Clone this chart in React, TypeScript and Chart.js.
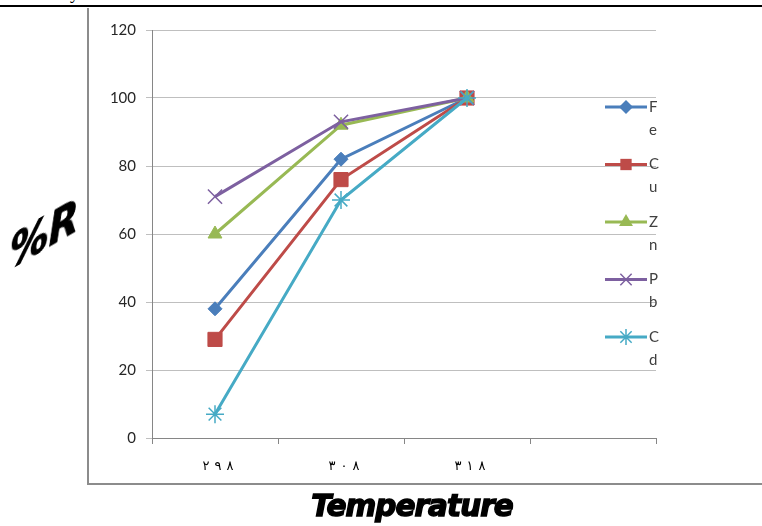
import React, { useEffect, useRef } from 'react';
import { Chart, registerables } from 'chart.js';

Chart.register(...registerables);

const categories = ['٢٩٨', '٣٠٨', '٣١٨', ''];
const seriesNames = ['Fe', 'Cu', 'Zn', 'Pb', 'Cd'];
const feValues = [38, 82, 100];
const cuValues = [29, 76, 100];
const znValues = [60, 92, 100];
const pbValues = [71, 93, 100];
const cdValues = [7, 70, 100];
const yMin = 0;
const yMax = 120;
const yStep = 20;

const colors = ['#4A7EBB', '#BE4B48', '#98B954', '#7D60A0', '#46AAC5'];
const pointStyles = ['rectRot', 'rect', 'triangle', 'crossRot', 'star'];
const pointRadii = [7, 10, 8, 10, 9];
const seriesValues = [feValues, cuValues, znValues, pbValues, cdValues];

function drawMarker(ctx: CanvasRenderingContext2D, style: string, x: number, y: number, r: number, color: string) {
  ctx.save();
  ctx.fillStyle = color;
  ctx.strokeStyle = color;
  ctx.lineWidth = 1.5;
  ctx.beginPath();
  if (style === 'rectRot') {
    ctx.moveTo(x, y - r);
    ctx.lineTo(x + r, y);
    ctx.lineTo(x, y + r);
    ctx.lineTo(x - r, y);
    ctx.closePath();
    ctx.fill();
  } else if (style === 'rect') {
    const s = r * Math.SQRT1_2;
    ctx.rect(x - s, y - s, 2 * s, 2 * s);
    ctx.fill();
  } else if (style === 'triangle') {
    ctx.moveTo(x, y - r);
    ctx.lineTo(x + r * Math.sin((2 * Math.PI) / 3), y + r / 2);
    ctx.lineTo(x - r * Math.sin((2 * Math.PI) / 3), y + r / 2);
    ctx.closePath();
    ctx.fill();
  } else if (style === 'crossRot') {
    const s = r * Math.SQRT1_2;
    ctx.moveTo(x - s, y - s);
    ctx.lineTo(x + s, y + s);
    ctx.moveTo(x - s, y + s);
    ctx.lineTo(x + s, y - s);
    ctx.stroke();
  } else {
    const s = r * Math.SQRT1_2;
    ctx.moveTo(x - s, y - s);
    ctx.lineTo(x + s, y + s);
    ctx.moveTo(x - s, y + s);
    ctx.lineTo(x + s, y - s);
    ctx.moveTo(x, y - r);
    ctx.lineTo(x, y + r);
    ctx.moveTo(x - r, y);
    ctx.lineTo(x + r, y);
    ctx.stroke();
  }
  ctx.restore();
}

const legendPlugin = {
  id: 'wrappedLegend',
  afterDraw(chart: any) {
    const ctx = chart.ctx as CanvasRenderingContext2D;
    const area = chart.chartArea;
    const x0 = area.right - 51;
    const x1 = area.right - 9;
    const xm = (x0 + x1) / 2;
    chart.data.datasets.forEach((ds: any, i: number) => {
      const y = area.top + 77 + i * 57.5;
      ctx.save();
      ctx.strokeStyle = ds.borderColor;
      ctx.lineWidth = 3;
      ctx.beginPath();
      ctx.moveTo(x0, y);
      ctx.lineTo(x1, y);
      ctx.stroke();
      drawMarker(ctx, ds.pointStyle, xm, y, Math.min(ds.pointRadius, 8), ds.borderColor);
      ctx.fillStyle = '#404040';
      ctx.font = '15px Lato';
      ctx.textAlign = 'left';
      ctx.textBaseline = 'middle';
      Array.from(ds.label as string).forEach((ch, j) => {
        ctx.fillText(ch, x1 + 2, y + j * 23);
      });
      ctx.restore();
    });
  },
};

// Draws the category labels of the x scale with wider letter spacing
const xLabelPlugin = {
  id: 'spacedXLabels',
  afterDraw(chart: any) {
    const ctx = chart.ctx as CanvasRenderingContext2D;
    const xs = chart.scales.x;
    const gap = 5;
    ctx.save();
    ctx.fillStyle = '#000';
    ctx.font = '13px "DejaVu Sans"';
    ctx.textAlign = 'left';
    ctx.textBaseline = 'middle';
    (chart.data.labels as string[]).forEach((lab, i) => {
      if (!lab) return;
      const chars = Array.from(lab);
      const widths = chars.map((c) => ctx.measureText(c).width);
      const total = widths.reduce((a, b) => a + b, 0) + gap * (chars.length - 1);
      let x = xs.getPixelForValue(i) + 3 - total / 2;
      chars.forEach((c, k) => {
        ctx.fillText(c, x, xs.top + 29);
        x += widths[k] + gap;
      });
    });
    ctx.restore();
  },
};

export default function App() {
  const ref = useRef<HTMLCanvasElement>(null);

  useEffect(() => {
    const datasets = seriesNames.map((name, i) => ({
      label: name,
      data: seriesValues[i],
      borderColor: colors[i],
      backgroundColor: colors[i],
      borderWidth: 3,
      pointStyle: pointStyles[i],
      pointRadius: pointRadii[i],
      pointBorderWidth: i >= 3 ? 1.5 : 1,
      pointBackgroundColor: colors[i],
      pointBorderColor: colors[i],
      tension: 0,
      order: 5 - i,
    }));
    const tickFont = { family: 'Lato', size: 15 };
    const chart = new Chart(ref.current as HTMLCanvasElement, {
      type: 'line',
      data: { labels: categories, datasets: datasets as any },
      options: {
        animation: false,
        responsive: false,
        maintainAspectRatio: false,
        layout: { padding: { left: 102, right: 106, top: 30, bottom: 48 } },
        plugins: { legend: { display: false }, tooltip: { enabled: false } },
        scales: {
          x: {
            offset: true,
            grid: { offset: true, drawOnChartArea: false, tickLength: 6, color: '#868686' },
            border: { color: '#868686', width: 1 },
            ticks: { display: false },
            afterFit(s: any) { s.height = 40; },
          },
          y: {
            min: yMin,
            max: yMax,
            ticks: { stepSize: yStep, padding: 10, font: tickFont, color: '#262626' },
            grid: { color: '#bfbfbf', tickLength: 6 },
            border: { color: '#868686', width: 1 },
            afterFit(s: any) { s.width = 50; },
          },
        },
      } as any,
      plugins: [legendPlugin, xLabelPlugin],
    });
    return () => chart.destroy();
  }, []);

  return (
    <div style={{ position: 'absolute', left: 0, top: 0, width: 762, height: 526, overflow: 'hidden', background: '#fff' }}>
      <div style={{ position: 'absolute', left: 70, top: -17, font: '18px "Liberation Serif"', color: '#000' }}>y</div>
      <div style={{ position: 'absolute', left: 0, top: 5, width: 762, height: 2, background: '#000' }} />
      <div style={{ position: 'absolute', left: 87, top: 8, width: 2, height: 477, background: '#8c8c8c' }} />
      <div style={{ position: 'absolute', left: 87, top: 483, width: 675, height: 2, background: '#8c8c8c' }} />
      <canvas ref={ref} width={762} height={526} style={{ position: 'absolute', left: 0, top: 0 }} />
      <div
        style={{
          position: 'absolute',
          left: 10,
          top: 232,
          font: 'italic bold 44px "DejaVu Sans"',
          color: '#000',
          WebkitTextStroke: '1px #000',
          transform: 'skewY(-30deg) scaleX(0.88)',
          transformOrigin: 'left top',
          whiteSpace: 'nowrap',
          lineHeight: 1,
        }}
      >
        %R
      </div>
      <div
        style={{
          position: 'absolute',
          left: 412,
          top: 487,
          font: 'italic bold 31px "DejaVu Sans"',
          color: '#000',
          WebkitTextStroke: '1.5px #000',
          transform: 'translateX(-50%) scaleX(0.95)',
          letterSpacing: -1,
          whiteSpace: 'nowrap',
        }}
      >
        Temperature
      </div>
    </div>
  );
}
